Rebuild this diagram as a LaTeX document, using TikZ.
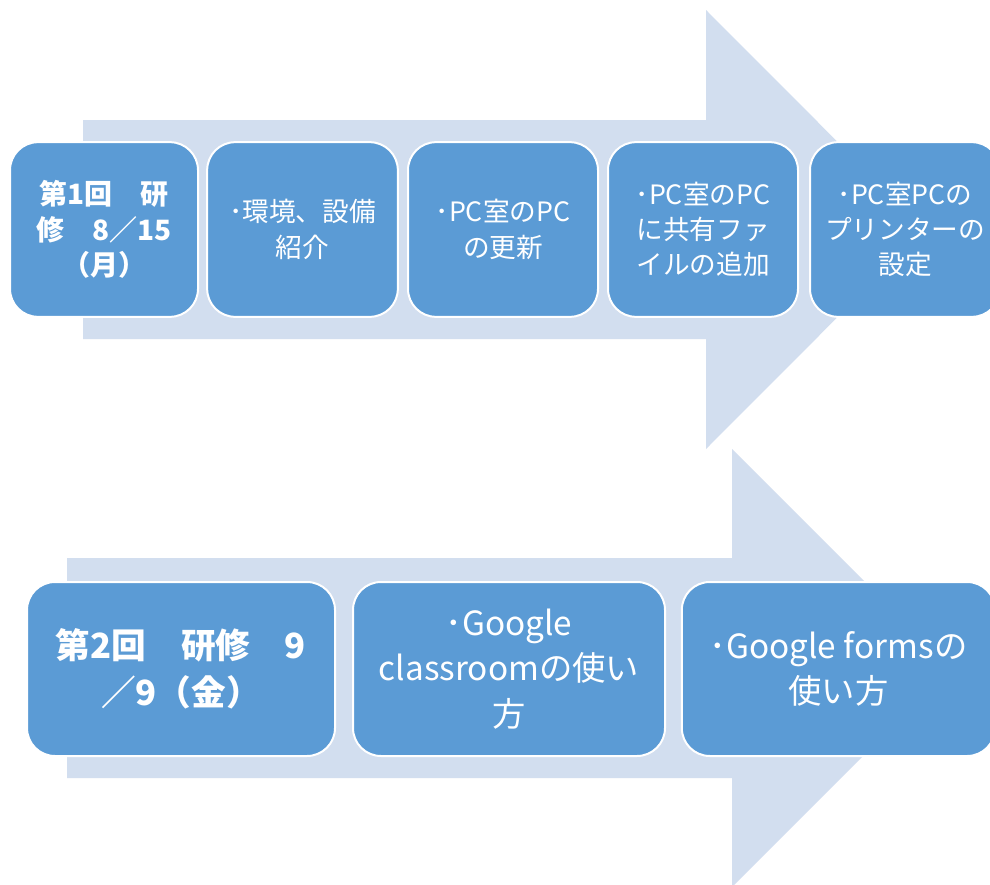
\documentclass[tikz,border=0pt]{standalone}
\usepackage{fontspec}
\setmainfont{Noto Sans CJK JP}
\definecolor{arrowbg}{HTML}{D2DEEF}
\definecolor{boxblue}{HTML}{5B9BD5}
\tikzset{
  stagebox/.style={fill=boxblue, draw=white, line width=1.5pt, rounded corners=21pt,
    minimum height=131pt, text=white, align=center, inner sep=0pt},
  topfont/.style={font=\fontsize{20}{26.5}\selectfont},
  topbold/.style={font=\fontsize{21}{26.5}\selectfont\bfseries},
  botfont/.style={font=\fontsize{25}{34}\selectfont},
  botbold/.style={font=\fontsize{26}{35}\selectfont\bfseries},
  flow/.style={fill=arrowbg, draw=none}
}
\begin{document}
\begin{tikzpicture}[x=0.75pt,y=-0.75pt]
\useasboundingbox (0,0) rectangle (990,885);
\clip (0,0) rectangle (990,885);
\fill[white] (0,0) rectangle (990,885);
% big arrows
\path[flow] (83,120) -- (706,120) -- (706,10) -- (925,229.5) -- (706,449) -- (706,339) -- (83,339) -- cycle;
\path[flow] (67,558) -- (732,558) -- (732,449) -- (951,668) -- (732,887) -- (732,778) -- (67,778) -- cycle;
% top row
\node[stagebox, topbold, minimum width=141pt] (b1) at (104,229.5) {第1回　研\\修　8／15\\（月）};
\node[stagebox, topfont, minimum width=143pt] (b2) at (302.5,229.5) {･環境、設備\\紹介};
\node[stagebox, topfont, minimum width=142.5pt] (b3) at (503,229.5) {･PC室のPC\\の更新};
\node[stagebox, topfont, minimum width=142.5pt] (b4) at (703,229.5) {･PC室のPC\\に共有ファ\\イルの追加};
\node[stagebox, topfont, minimum width=142.5pt] (b5) at (905,229.5) {･PC室PCの\\プリンターの\\設定};
% bottom row
\node[stagebox, botbold, minimum width=231pt, minimum height=130.5pt] (c1) at (181,669) {第2回　研修　9\\／9（金）};
\node[stagebox, botfont, minimum width=234pt, minimum height=130.5pt] (c2) at (509,669) {･Google\\classroomの使い\\方};
\node[stagebox, botfont, minimum width=235pt, minimum height=130.5pt] (c3) at (838.5,669) {･Google formsの\\使い方};
\end{tikzpicture}
\end{document}
